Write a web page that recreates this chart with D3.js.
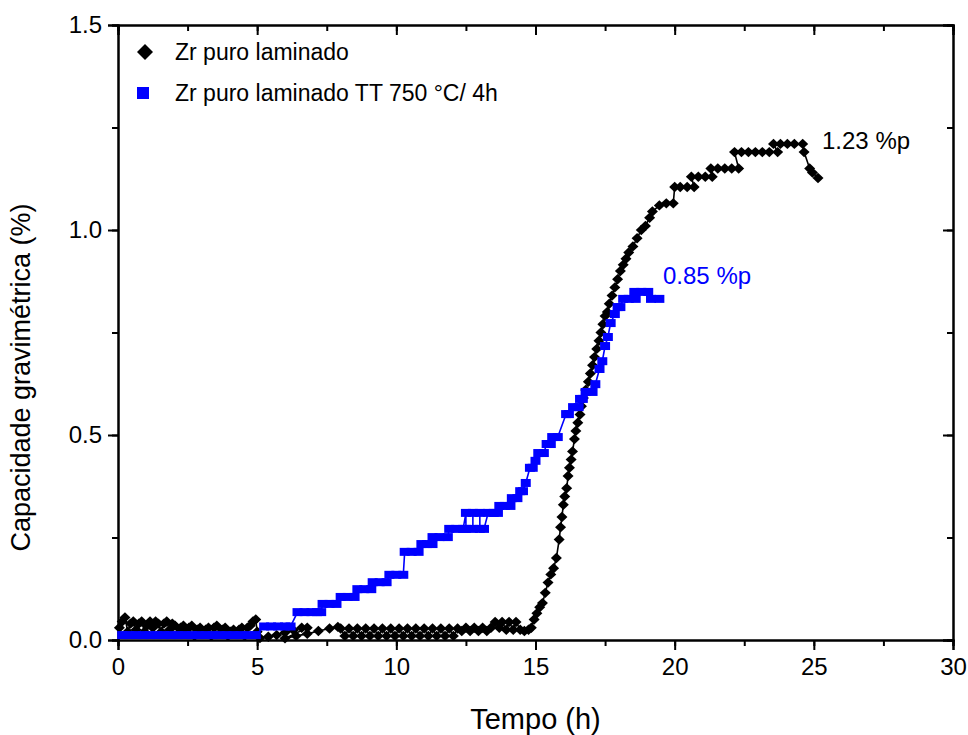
<!DOCTYPE html>
<html>
<head>
<meta charset="utf-8">
<script src="https://cdn.jsdelivr.net/npm/d3@7"></script>
<style>
  body { margin: 0; background: #fff; }
  text { font-family: "Liberation Sans", Arial, sans-serif; }
</style>
</head>
<body>
<div id="chart_container"></div>
<script>
// Zr puro laminado: [tempo (h), capacidade (%)]
const zrLaminado = [
  [0.05,0.03],[0.15,0.045],[0.25,0.055],[0.35,0.02],[0.45,0.04],[0.55,0.045],[0.65,0.025],[0.75,0.04],
  [0.85,0.045],[0.95,0.02],[1.05,0.035],[1.15,0.045],[1.25,0.03],[1.35,0.045],[1.45,0.04],[1.55,0.02],
  [1.65,0.04],[1.75,0.045],[1.85,0.025],[1.95,0.04],[2.05,0.035],[2.15,0.015],[2.25,0.03],[2.35,0.035],
  [2.45,0.02],[2.55,0.03],[2.65,0.035],[2.75,0.01],[2.85,0.025],[2.95,0.03],[3.05,0.015],[3.15,0.025],
  [3.25,0.03],[3.35,0.01],[3.45,0.03],[3.55,0.035],[3.65,0.015],[3.75,0.025],[3.85,0.03],[3.95,0.01],
  [4.05,0.02],[4.15,0.025],[4.25,0.015],[4.35,0.025],[4.45,0.03],[4.55,0.01],[4.65,0.03],[4.75,0.035],
  [4.85,0.045],[4.95,0.05],[5.0,0.02],
  [5.1,0.005],[5.4,0.008],[5.7,0.012],[6.0,0.018],[6.3,0.024],[6.6,0.03],[6.8,0.03],[6.0,0.004],
  [6.4,0.01],[6.8,0.015],[7.2,0.022],[7.6,0.028],[7.9,0.032],
  [8.0,0.028],[8.15,0.01],[8.3,0.028],[8.45,0.01],[8.6,0.028],[8.75,0.01],[8.9,0.028],[9.05,0.01],
  [9.2,0.028],[9.35,0.01],[9.5,0.028],[9.65,0.01],[9.8,0.028],[9.95,0.01],[10.1,0.028],[10.25,0.01],
  [10.4,0.028],[10.55,0.01],[10.7,0.028],[10.85,0.01],[11.0,0.028],[11.15,0.01],[11.3,0.028],[11.45,0.01],
  [11.6,0.028],[11.75,0.01],[11.9,0.028],[12.05,0.01],[12.2,0.028],
  [12.35,0.022],[12.5,0.03],[12.65,0.022],[12.8,0.03],[12.95,0.022],[13.1,0.03],[13.25,0.022],[13.4,0.03],
  [13.55,0.044],[13.7,0.03],[13.8,0.044],[13.95,0.025],[14.05,0.044],[14.2,0.025],[14.3,0.044],
  [14.45,0.025],[14.6,0.022],[14.75,0.025],
  [14.85,0.03],[14.95,0.05],[15.05,0.065],[15.15,0.08],[15.25,0.09],[15.35,0.115],[15.45,0.14],
  [15.55,0.16],[15.65,0.175],[15.75,0.2],[15.85,0.245],[15.9,0.275],[15.95,0.3],[16.0,0.33],
  [16.05,0.35],[16.12,0.37],[16.17,0.4],[16.22,0.42],[16.28,0.44],[16.33,0.46],[16.4,0.49],
  [16.45,0.51],[16.52,0.53],[16.6,0.55],[16.65,0.57],[16.72,0.59],[16.8,0.61],[16.9,0.63],
  [16.97,0.65],[17.05,0.67],[17.12,0.69],[17.2,0.71],[17.28,0.73],[17.35,0.75],[17.42,0.77],
  [17.5,0.79],[17.58,0.8],[17.65,0.82],[17.75,0.84],[17.85,0.86],[17.95,0.88],[18.05,0.9],
  [18.15,0.915],[18.25,0.93],[18.35,0.945],[18.5,0.96],[18.65,0.98],[18.8,1.0],[18.95,1.01],
  [19.1,1.03],[19.2,1.045],[19.45,1.06],[19.7,1.065],[19.95,1.065],[20.0,1.105],[20.2,1.105],
  [20.45,1.105],[20.7,1.105],[20.6,1.13],[20.85,1.13],[21.1,1.13],[21.35,1.13],[21.3,1.15],
  [21.55,1.15],[21.8,1.15],[22.05,1.15],[22.3,1.15],[22.15,1.19],[22.4,1.19],[22.65,1.19],
  [22.9,1.19],[23.15,1.19],[23.4,1.19],[23.7,1.19],[23.55,1.21],[23.8,1.21],[24.05,1.21],
  [24.3,1.21],[24.6,1.21],[24.65,1.19],[24.85,1.15],[24.95,1.14],[25.15,1.127]
];

// Zr puro laminado TT 750 °C/ 4h
const zrLaminadoTT = [
  [0.15,0.012],[0.4,0.012],[0.65,0.012],[0.9,0.012],[1.15,0.012],[1.4,0.012],[1.65,0.012],
  [1.9,0.012],[2.15,0.012],[2.4,0.012],[2.65,0.012],[2.9,0.012],[3.15,0.012],[3.4,0.012],
  [3.65,0.012],[3.9,0.012],[4.15,0.012],[4.4,0.012],[4.65,0.012],[4.95,0.012],
  [5.25,0.033],[5.5,0.033],[5.75,0.033],[6.0,0.033],[6.2,0.033],
  [6.45,0.068],[6.7,0.068],[6.95,0.068],[7.15,0.068],[7.3,0.068],
  [7.35,0.088],[7.6,0.088],[7.85,0.088],
  [8.0,0.105],[8.25,0.105],[8.5,0.105],
  [8.6,0.124],[8.85,0.124],[9.1,0.124],
  [9.15,0.141],[9.4,0.141],[9.65,0.141],
  [9.75,0.159],[10.0,0.159],[10.25,0.159],
  [10.3,0.215],[10.55,0.215],[10.8,0.215],
  [10.9,0.234],[11.1,0.234],[11.3,0.234],
  [11.3,0.251],[11.55,0.251],[11.85,0.251],
  [11.9,0.271],[12.15,0.271],[12.4,0.271],
  [12.5,0.31],[12.5,0.271],[12.75,0.271],[12.75,0.31],[13.0,0.31],[13.0,0.271],[13.15,0.271],
  [13.3,0.31],[13.5,0.31],[13.65,0.31],
  [13.7,0.327],[13.9,0.327],[14.1,0.327],
  [14.15,0.346],[14.35,0.346],
  [14.45,0.363],[14.55,0.363],
  [14.65,0.383],
  [14.8,0.42],[14.9,0.42],
  [15.0,0.437],
  [15.1,0.456],[15.3,0.456],
  [15.4,0.478],[15.55,0.478],
  [15.6,0.495],[15.8,0.495],
  [16.1,0.551],[16.2,0.551],
  [16.35,0.568],[16.55,0.568],
  [16.6,0.588],[16.7,0.588],
  [16.8,0.605],[17.05,0.605],
  [17.15,0.624],[17.3,0.661],[17.4,0.68],[17.5,0.717],[17.6,0.739],[17.7,0.773],[17.85,0.795],
  [17.95,0.812],[18.05,0.812],
  [18.15,0.832],[18.35,0.832],[18.6,0.832],
  [18.55,0.849],[18.8,0.849],[19.05,0.849],
  [19.15,0.832],[19.45,0.832]
];

const xTicks = [0, 5, 10, 15, 20, 25, 30];
const yTicks = [0.0, 0.5, 1.0, 1.5];
const seriesNames = ["Zr puro laminado", "Zr puro laminado TT 750 °C/ 4h"];
const endLabels = ["1.23 %p", "0.85 %p"];

const margin = { top: 25, right: 15, bottom: 95, left: 118 },
    width = 968 - margin.left - margin.right,
    height = 735 - margin.top - margin.bottom;

const svg = d3.select("#chart_container")
    .append("svg")
    .attr("width", 968)
    .attr("height", 735)
    .append("g")
    .attr("transform", `translate(${margin.left}, ${margin.top})`);

const x = d3.scaleLinear().domain([0, 30]).range([0, width]);
const y = d3.scaleLinear().domain([0, 1.5]).range([height, 0]);

const minorX = d3.range(0, 30.01, 2.5);
const minorY = d3.range(0, 1.51, 0.25);

// bottom axis
svg.append("g")
    .attr("transform", `translate(0, ${height})`)
    .call(d3.axisBottom(x).tickValues(minorX).tickSize(6).tickFormat(""));
svg.append("g")
    .attr("transform", `translate(0, ${height})`)
    .call(d3.axisBottom(x).tickValues(xTicks).tickSize(10).tickPadding(8).tickFormat(d3.format("d")));
// top axis, ticks inward
svg.append("g")
    .call(d3.axisTop(x).tickValues(minorX).tickSize(-6).tickFormat(""));
svg.append("g")
    .call(d3.axisTop(x).tickValues(xTicks).tickSize(-10).tickFormat(""));
// left axis
svg.append("g")
    .call(d3.axisLeft(y).tickValues(minorY).tickSize(6).tickFormat(""));
svg.append("g")
    .call(d3.axisLeft(y).tickValues(yTicks).tickSize(10).tickPadding(6).tickFormat(d3.format(".1f")));
// right axis, ticks inward
svg.append("g")
    .attr("transform", `translate(${width}, 0)`)
    .call(d3.axisRight(y).tickValues(minorY).tickSize(-6).tickFormat(""));
svg.append("g")
    .attr("transform", `translate(${width}, 0)`)
    .call(d3.axisRight(y).tickValues(yTicks).tickSize(-10).tickFormat(""));

svg.selectAll(".domain").attr("stroke", "#000").attr("stroke-width", 2);
svg.selectAll(".tick line").attr("stroke", "#000").attr("stroke-width", 2);
svg.selectAll(".tick text").style("font-size", "24px").attr("fill", "#000");

// axis titles
svg.append("text")
    .attr("x", width / 2)
    .attr("y", height + 89)
    .attr("text-anchor", "middle")
    .style("font-size", "29px")
    .text("Tempo (h)");

svg.append("text")
    .attr("transform", `translate(-88, ${height / 2 + 45}) rotate(-90)`)
    .attr("text-anchor", "middle")
    .style("font-size", "27px")
    .text("Capacidade gravimétrica (%)");

const line = d3.line()
    .x(d => x(d[0]))
    .y(d => y(d[1]));

const diamond = "M-5.5,0L0,-5.2L5.5,0L0,5.2Z";

// black series
svg.append("path")
    .datum(zrLaminado)
    .attr("fill", "none")
    .attr("stroke", "#000")
    .attr("stroke-width", 1.6)
    .attr("d", line);

svg.selectAll(".lam")
    .data(zrLaminado)
    .enter()
    .append("path")
    .classed("lam", true)
    .attr("d", diamond)
    .attr("transform", d => `translate(${x(d[0])}, ${y(d[1])})`)
    .attr("fill", "#000");

// blue series
svg.append("path")
    .datum(zrLaminadoTT)
    .attr("fill", "none")
    .attr("stroke", "#0000ff")
    .attr("stroke-width", 1.6)
    .attr("d", line);

svg.selectAll(".tt")
    .data(zrLaminadoTT)
    .enter()
    .append("rect")
    .classed("tt", true)
    .attr("x", d => x(d[0]) - 5)
    .attr("y", d => y(d[1]) - 4)
    .attr("width", 10)
    .attr("height", 8)
    .attr("fill", "#0000ff");

// end labels
svg.append("text")
    .attr("x", 704)
    .attr("y", y(1.23) + 13)
    .style("font-size", "24px")
    .attr("fill", "#000")
    .text(endLabels[0]);

svg.append("text")
    .attr("x", 545)
    .attr("y", y(0.85) - 8)
    .style("font-size", "24px")
    .attr("fill", "#0000ff")
    .text(endLabels[1]);

// legend
const legend = svg.append("g");
legend.append("path")
    .attr("d", "M-8,0L0,-8L8,0L0,8Z")
    .attr("transform", "translate(27, 27)")
    .attr("fill", "#000");
legend.append("rect")
    .attr("x", 19).attr("y", 62).attr("width", 12).attr("height", 12)
    .attr("fill", "#0000ff");
legend.selectAll(".legtext")
    .data(seriesNames)
    .enter()
    .append("text")
    .attr("x", 57)
    .attr("y", (d, i) => 35 + i * 41)
    .style("font-size", "23px")
    .text(d => d);
</script>
</body>
</html>
